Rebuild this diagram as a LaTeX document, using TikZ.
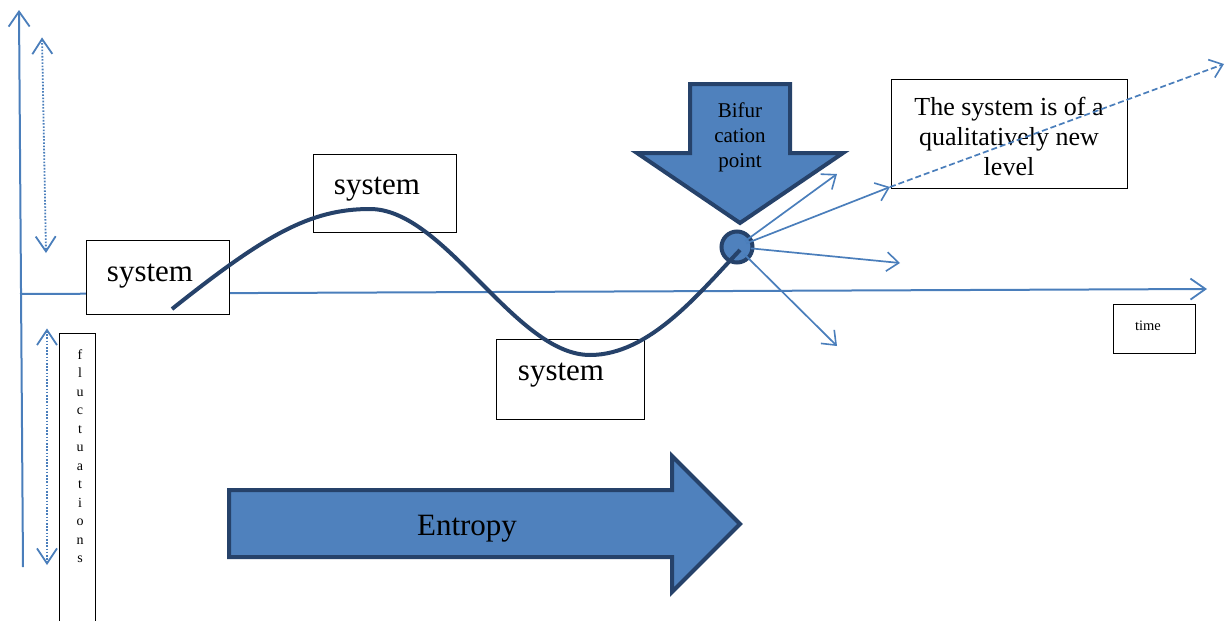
\documentclass[tikz,border=0pt]{standalone}
\usepackage{fontspec}
\setmainfont{Liberation Serif}
\usetikzlibrary{arrows.meta}
\definecolor{axisblue}{HTML}{4A7EBB}
\definecolor{fillblue}{HTML}{4F81BD}
\definecolor{navy}{HTML}{26426A}
\tikzset{
  chev/.style={-{Straight Barb[length=15pt,width=21pt,line width=1.8pt]}},
  axisline/.style={draw=axisblue,line width=2pt,chev},
  ray/.style={draw=axisblue,line width=1.7pt,-{Straight Barb[length=12pt,width=19pt,line width=1.6pt]}},
  fluct/.style={draw=axisblue,line width=1.8pt,dash pattern=on 1.6pt off 1.6pt,
    {Straight Barb[length=15pt,width=20pt,line width=1.8pt,sep]}-{Straight Barb[length=15pt,width=20pt,line width=1.8pt]}},
  tbox/.style={draw=black,line width=1pt,fill=white,inner sep=0pt},
  bigarrow/.style={fill=fillblue,draw=navy,line width=4pt,line join=miter},
  lbl/.style={inner sep=0pt,font=\fontsize{31}{34}\selectfont},
}
\begin{document}
\begin{tikzpicture}[x=1pt,y=-1pt]
\useasboundingbox (0,0) rectangle (1227,621);

% axes
\coordinate (vbot) at (23,567);
\coordinate (vtop) at (19,10);
\coordinate (hleft) at (20,294);
\coordinate (hright) at (1207,289);
\draw[axisline] (vbot) -- (vtop);
\draw[axisline] (hleft) -- (hright);

% fluctuation ranges
\coordinate (u1) at (42,36);
\coordinate (u2) at (46,253);
\coordinate (l1) at (47,327);
\coordinate (l2) at (47,565);
\draw[fluct] (u1) -- (u2);
\draw[fluct] (l1) -- (l2);

% fluctuations label
\node[tbox,minimum width=36pt,minimum height=288pt] (fbox) at (77,477) {};
\node[inner sep=0pt,align=center,font=\fontsize{14}{18.5}\selectfont] (ftext) at (80,456)
  {f\\l\\u\\c\\t\\u\\a\\t\\i\\o\\n\\s};

% system boxes
\node[tbox,minimum width=143pt,minimum height=74pt] (s1) at (157.5,277) {};
\node[lbl] (s1t) at (150,276) {system};
\node[tbox,minimum width=143pt,minimum height=78pt] (s2) at (384.5,193) {};
\node[lbl] (s2t) at (377,189) {system};
\node[tbox,minimum width=148pt,minimum height=80pt] (s3) at (570,379) {};
\node[lbl] (s3t) at (561,375) {system};

% time box
\node[tbox,minimum width=82pt,minimum height=49pt] (tb) at (1154,328.5) {};
\node[inner sep=0pt,font=\fontsize{14.5}{16}\selectfont] (tt) at (1148,326) {time};

% new level box
\node[tbox,minimum width=236pt,minimum height=109pt] (nl) at (1009,133.5) {};
\node[inner sep=0pt,align=center,font=\fontsize{26}{30}\selectfont] (nlt) at (1009,136)
  {The system is of a\\qualitatively new\\level};

% entropy arrow
\draw[bigarrow] (229,490) -- (672,490) -- (672,456) -- (740,524) -- (672,592)
  -- (672,557) -- (229,557) -- cycle;
\node[lbl] (ent) at (467,529) {Entropy};

% bifurcation arrow
\draw[bigarrow] (690,84) -- (790,84) -- (790,153) -- (843,153) -- (740,223)
  -- (637,153) -- (690,153) -- cycle;
\node[inner sep=0pt,align=center,font=\fontsize{21}{25}\selectfont] (bt) at (740,137)
  {Bifur\\cation\\point};

% bifurcation point
\node[circle,fill=fillblue,draw=navy,line width=4pt,minimum size=31pt,inner sep=0pt] (bif) at (737,247) {};

% trajectory
\draw[navy,line width=4pt] (172,309) .. controls (265,235) and (310,209) .. (370,209)
  .. controls (445,209) and (515,355) .. (590,355)
  .. controls (650,355) and (700,292) .. (740,250);

% branches
\coordinate (r1) at (837,174);
\coordinate (r2) at (890,187);
\coordinate (r3) at (900,263);
\coordinate (r4) at (837,346);
\coordinate (far) at (1224,64);
\draw[ray,shorten <=10pt] (bif.center) -- (r1);
\draw[ray,shorten <=10pt] (bif.center) -- (r2);
\draw[ray,shorten <=14pt] (bif.center) -- (r3);
\draw[ray,shorten <=10pt] (bif.center) -- (r4);
\draw[ray,dash pattern=on 6pt off 3pt] (r2) -- (far);
\end{tikzpicture}
\end{document}
